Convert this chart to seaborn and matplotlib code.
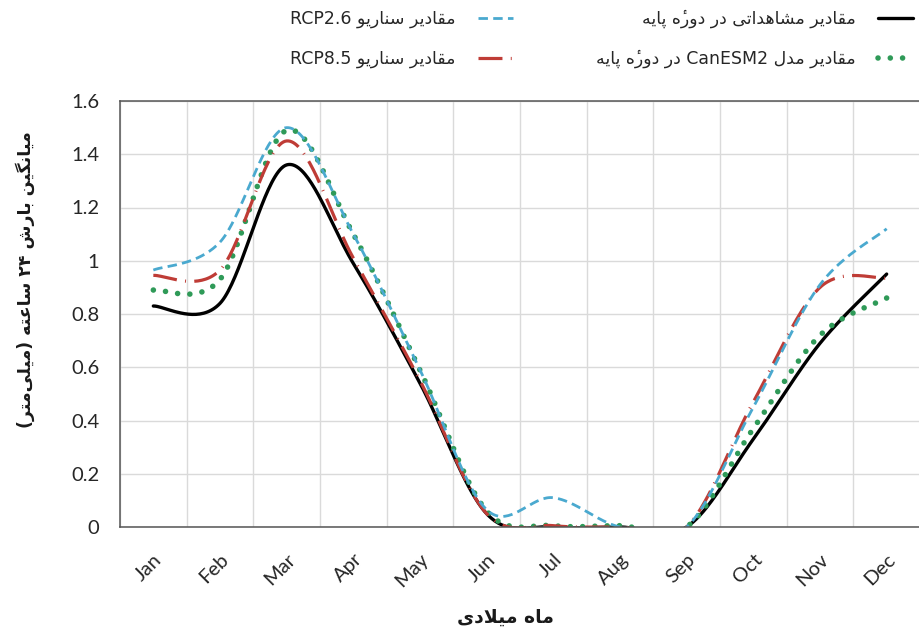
import numpy as np
import pandas as pd
import matplotlib
matplotlib.use("Agg")
import matplotlib.pyplot as plt
import seaborn as sns

# ---- data: mean 24h precipitation (mm) per calendar month ----
months = ["Jan", "Feb", "Mar", "Apr", "May", "Jun",
          "Jul", "Aug", "Sep", "Oct", "Nov", "Dec"]
observed = [0.83, 0.84, 1.36, 0.99, 0.54, 0.05, 0.0, 0.0, 0.0, 0.33, 0.69, 0.95]
canesm2 = [0.89, 0.93, 1.49, 1.10, 0.59, 0.06, 0.005, 0.005, 0.0, 0.37, 0.72, 0.86]
rcp26 = [0.965, 1.07, 1.50, 1.10, 0.59, 0.065, 0.11, 0.0, 0.0, 0.45, 0.91, 1.12]
rcp85 = [0.945, 0.965, 1.45, 1.01, 0.55, 0.05, 0.005, 0.0, 0.0, 0.47, 0.90, 0.935]
y_ticks = [0, 0.2, 0.4, 0.6, 0.8, 1.0, 1.2, 1.4, 1.6]
y_tick_labels = ["0", "0.2", "0.4", "0.6", "0.8", "1", "1.2", "1.4", "1.6"]

label_obs = "مقادیر مشاهداتی در دورهٔ پایه"
label_can = "مقادیر مدل CanESM2 در دورهٔ پایه"
label_26 = "مقادیر سناریو RCP2.6"
label_85 = "مقادیر سناریو RCP8.5"
x_title = "ماه میلادی"
y_title = "میانگین بارش ۲۴ ساعته (میلی\u200cمتر)"

# ---- minimal Persian shaping + right-to-left ordering for matplotlib ----
# letter: (isolated, final, initial, medial); None = does not join forward
FORMS = {
    "ا": ("\uFE8D", "\uFE8E", None, None),
    "ب": ("\uFE8F", "\uFE90", "\uFE91", "\uFE92"),
    "پ": ("\uFB56", "\uFB57", "\uFB58", "\uFB59"),
    "ت": ("\uFE95", "\uFE96", "\uFE97", "\uFE98"),
    "د": ("\uFEA9", "\uFEAA", None, None),
    "ر": ("\uFEAD", "\uFEAE", None, None),
    "س": ("\uFEB1", "\uFEB2", "\uFEB3", "\uFEB4"),
    "ش": ("\uFEB5", "\uFEB6", "\uFEB7", "\uFEB8"),
    "ع": ("\uFEC9", "\uFECA", "\uFECB", "\uFECC"),
    "ق": ("\uFED5", "\uFED6", "\uFED7", "\uFED8"),
    "گ": ("\uFB92", "\uFB93", "\uFB94", "\uFB95"),
    "ل": ("\uFEDD", "\uFEDE", "\uFEDF", "\uFEE0"),
    "م": ("\uFEE1", "\uFEE2", "\uFEE3", "\uFEE4"),
    "ن": ("\uFEE5", "\uFEE6", "\uFEE7", "\uFEE8"),
    "ه": ("\uFEE9", "\uFEEA", "\uFEEB", "\uFEEC"),
    "و": ("\uFEED", "\uFEEE", None, None),
    "ی": ("\uFBFC", "\uFBFD", "\uFBFE", "\uFBFF"),
}
MARKS = {"\u0654"}  # hamza above, kept on its base letter


def _dual(c):
    return c in FORMS and FORMS[c][2] is not None


def _shape_word(word):
    out, i, n = [], 0, len(word)
    while i < n:
        c = word[i]
        if c in MARKS and out:
            out[-1] += c
            i += 1
            continue
        if c not in FORMS:
            out.append(c)
            i += 1
            continue
        joins_prev = i > 0 and _dual(word[i - 1])
        if c == "ل" and i + 1 < n and word[i + 1] == "ا":
            out.append("\uFEFC" if joins_prev else "\uFEFB")
            i += 2
            continue
        joins_next = _dual(c) and i + 1 < n and word[i + 1] in FORMS
        iso, fin, ini, med = FORMS[c]
        if joins_prev and joins_next:
            out.append(med)
        elif joins_prev:
            out.append(fin)
        elif joins_next:
            out.append(ini)
        else:
            out.append(iso)
        i += 1
    return out


def rtl(text):
    words = []
    for w in text.split(" "):
        if any(c in FORMS for c in w):
            glyphs = [g for g in _shape_word(w) if g != "\u200c"][::-1]
            glyphs = [{"(": ")", ")": "("}.get(g, g) for g in glyphs]
            words.append("".join(glyphs))
        else:
            words.append(w)
    return " ".join(words[::-1])


# ---- smooth (Bezier) curve through the monthly values ----
def smooth(values, steps=40):
    y = np.asarray(values, dtype=float)
    x = np.arange(len(y), dtype=float)
    xs, ys = [], []
    for i in range(len(y) - 1):
        i0, i3 = max(i - 1, 0), min(i + 2, len(y) - 1)
        p0, p1 = np.array([x[i], y[i]]), np.array([x[i + 1], y[i + 1]])
        c1 = p0 + (np.array([x[i + 1], y[i + 1]]) - np.array([x[i0], y[i0]])) / 6
        c2 = p1 - (np.array([x[i3], y[i3]]) - np.array([x[i], y[i]])) / 6
        t = np.linspace(0, 1, steps, endpoint=(i == len(y) - 2))[:, None]
        pts = ((1 - t) ** 3) * p0 + 3 * ((1 - t) ** 2) * t * c1 \
            + 3 * (1 - t) * t ** 2 * c2 + t ** 3 * p1
        xs.append(pts[:, 0])
        ys.append(pts[:, 1])
    return np.concatenate(xs), np.concatenate(ys)


sns.set_theme(style="white")
plt.rcParams["font.family"] = ["Lato", "DejaVu Sans"]

fig = plt.figure(figsize=(9.2, 6.36), dpi=100)
ax = fig.add_axes([120 / 920, 1 - 527 / 636, 800 / 920, 426 / 636])

series = [
    (label_26, rcp26, dict(color="#4aa9cf", lw=2.0, ls=(0, (3.4, 1.9)))),
    (label_85, rcp85, dict(color="#bf3c36", lw=2.3, ls=(0, (7.5, 2.6, 0.3, 2.6)))),
    (label_obs, observed, dict(color="black", lw=2.4, ls="-")),
    (label_can, canesm2, dict(color="#2f9a58", lw=4.0, ls=(0, (0.01, 2.2)))),
]
draw_order = [2, 3, 1, 0]
handles = {}
for k in draw_order:
    name, vals, st = series[k]
    sx, sy = smooth(vals)
    df = pd.DataFrame({"x": sx, "y": sy})
    sns.lineplot(data=df, x="x", y="y", ax=ax, sort=False, estimator=None,
                 color=st["color"], linewidth=st["lw"], linestyle=st["ls"],
                 legend=False)
    line = ax.lines[-1]
    line.set_dash_capstyle("round" if k == 3 else "butt")
    line.set_solid_capstyle("round")
    handles[k] = line

ax.set_xlim(-0.5, 11.5)
ax.set_ylim(0, 1.6)
ax.set_xticks(range(len(months)))
ax.set_xticklabels(months, rotation=45, ha="right", rotation_mode="anchor",
                   fontsize=14.5, color="#262626")
ax.set_xticks(np.arange(-0.5, 12, 1), minor=True)
ax.set_yticks(y_ticks)
ax.set_yticklabels(y_tick_labels, fontsize=14.5, color="#262626")
ax.tick_params(axis="x", which="both", length=0, pad=17)
ax.tick_params(axis="y", length=0, pad=15)
ax.grid(axis="y", which="major", color="#dadada", lw=1.0)
ax.grid(axis="x", which="minor", color="#dadada", lw=1.0)
ax.set_axisbelow(True)
for s in ax.spines.values():
    s.set_color("#555555")
    s.set_linewidth(1.1)
ax.set_xlabel("")
ax.set_ylabel("")

fig.text(505 / 920, 1 - 617 / 636, rtl(x_title), ha="center", va="center",
         fontsize=13.5, fontweight="bold", family=["DejaVu Sans"], color="#1a1a1a")
fig.text(25 / 920, 1 - 280 / 636, rtl(y_title), ha="center", va="center",
         rotation=90, fontsize=12.5, fontweight="bold", family=["DejaVu Sans"],
         color="#1a1a1a")

leg_order = [0, 1, 2, 3]
fig.legend([handles[k] for k in leg_order],
           [rtl(series[k][0]) for k in leg_order],
           ncol=2, markerfirst=False, frameon=False,
           loc="upper right", bbox_to_anchor=(1.003, 1.0),
           prop={"family": ["DejaVu Sans"], "size": 12.5},
           handlelength=2.0, handletextpad=1.3, columnspacing=4.8,
           labelspacing=1.25, borderaxespad=0.15)

fig.savefig("out.png", dpi=100)
